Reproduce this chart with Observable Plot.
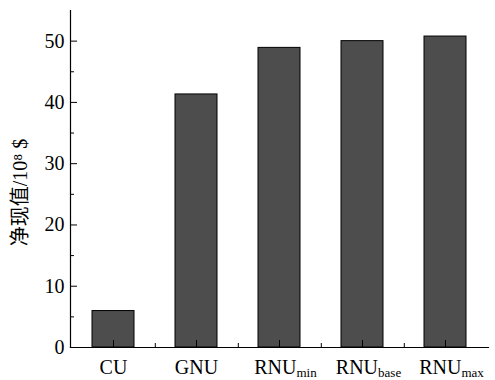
<!DOCTYPE html>
<html>
<head>
<meta charset="utf-8">
<script src="https://cdn.jsdelivr.net/npm/d3@7"></script>
<script src="https://cdn.jsdelivr.net/npm/@observablehq/plot@0.6"></script>
<style>
  html, body { margin: 0; padding: 0; background: white; }
</style>
</head>
<body>
<div id="chart"></div>
<script>
const categories = ["CU", "GNU", "RNU_min", "RNU_base", "RNU_max"];
const labelMain = ["CU", "GNU", "RNU", "RNU", "RNU"];
const labelSub = ["", "", "min", "base", "max"];
const values = [5.95, 41.3, 48.9, 50.0, 50.75];
const yTicks = [0, 10, 20, 30, 40, 50];
const yMinorTicks = [5, 15, 25, 35, 45];
const yLabel = "净现值/10⁸ $";

const data = categories.map((c, i) => ({category: c, value: values[i]}));

const W = 495, H = 380;
const mL = 70, mR = 7, mT = 10, mB = 33;
const frameW = W - mL - mR, frameH = H - mT - mB;
const step = frameW / (categories.length - 0.5 + 0.5);

const chart = Plot.plot({
  width: W,
  height: H,
  marginLeft: mL,
  marginRight: mR,
  marginTop: mT,
  marginBottom: mB,
  style: {fontFamily: "'Liberation Serif', 'Noto Sans CJK SC', serif", fontSize: "20px", background: "white", color: "black"},
  x: {domain: categories, paddingInner: 0.5, paddingOuter: 0.25},
  y: {domain: [0, 55]},
  marks: [
    Plot.barY(data, {x: "category", y: "value", fill: "#4d4d4d", stroke: "#000", strokeWidth: 1}),
    Plot.frame({anchor: "left", stroke: "#000", strokeWidth: 1.2}),
    Plot.frame({anchor: "bottom", stroke: "#000", strokeWidth: 1.2}),
    Plot.tickY(yTicks, {y: d => d, insetRight: frameW - 7, stroke: "#000", strokeWidth: 1}),
    Plot.tickY(yMinorTicks, {y: d => d, insetRight: frameW - 4, stroke: "#000", strokeWidth: 1}),
    Plot.tickX(categories, {x: d => d, insetTop: frameH - 7, stroke: "#000", strokeWidth: 1}),
    Plot.tickX(categories.slice(0, -1), {x: d => d, dx: step / 2, insetTop: frameH - 4, stroke: "#000", strokeWidth: 1}),
    Plot.axisY({ticks: yTicks, tickSize: 0, tickPadding: 6, label: null, fontSize: 20, fontFamily: "'Liberation Serif', serif"}),
    Plot.axisX({tickSize: 0, tickPadding: 12, label: null, fontSize: 20, fontFamily: "'Liberation Serif', serif"}),
    Plot.text([yLabel], {frameAnchor: "left", dx: -50, dy: 13.5, rotate: -90, textAnchor: "middle", fontSize: 20, fill: "#000", fontFamily: "'Liberation Serif', 'Noto Sans CJK SC', serif"})
  ]
});

// subscripts on category labels
chart.querySelectorAll('g[aria-label="x-axis tick label"] text').forEach(t => {
  const i = categories.indexOf(t.textContent.trim());
  if (i < 0) return;
  while (t.firstChild) t.removeChild(t.firstChild);
  const ns = "http://www.w3.org/2000/svg";
  const m = document.createElementNS(ns, "tspan");
  m.textContent = labelMain[i];
  t.appendChild(m);
  if (labelSub[i]) {
    m.setAttribute("dx", "6");
    const s = document.createElementNS(ns, "tspan");
    s.textContent = labelSub[i];
    s.setAttribute("font-size", "13");
    s.setAttribute("dy", "3");
    t.appendChild(s);
  }
});

document.getElementById("chart").appendChild(chart);
</script>
</body>
</html>
